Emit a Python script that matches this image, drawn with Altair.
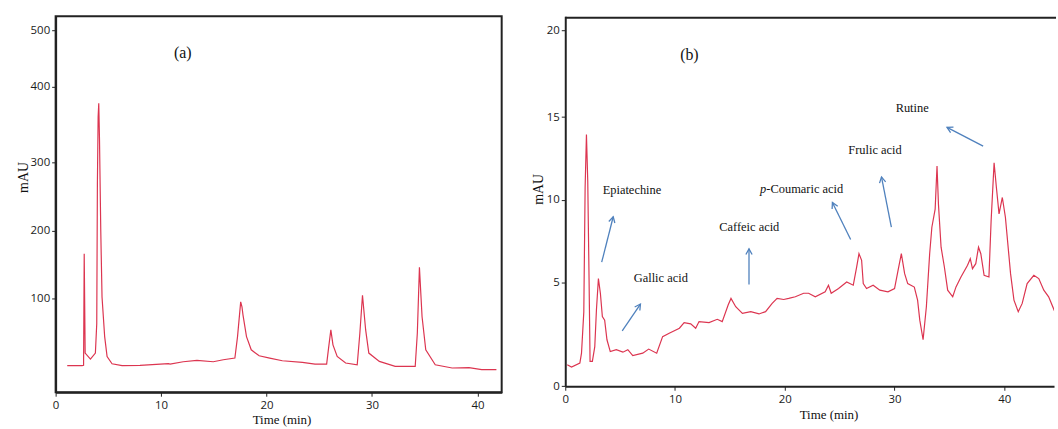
import math
import altair as alt
import numpy as np
import pandas as pd

# ---------------- data ----------------
# panel (a): standard mixture chromatogram
A_TIME = [1.1, 2.5, 2.65, 2.71, 2.8, 3.3, 3.77, 3.9, 3.96, 4.03,
          4.09, 4.16, 4.28, 4.4, 4.65, 4.88, 5.35, 6.3, 8.0, 10.7,
          10.85, 12.1, 13.4, 14.95, 15.9, 17.0, 17.25, 17.55, 17.67, 17.77,
          18.1, 18.55, 19.3, 20.3, 21.5, 23.4, 24.6, 25.7, 25.9, 26.1,
          26.3, 26.7, 27.5, 28.6, 28.85, 29.1, 29.4, 29.7, 30.7, 32.2,
          34.1, 34.3, 34.5, 34.75, 35.1, 36.0, 37.6, 39.2, 40.4, 41.8]
A_MAU = [1, 1, 1.5, 166, 19.5, 10.7, 19.5, 63, 268, 360,
         378, 330, 200, 102, 43.8, 14.5, 3.8, 1, 1.5, 3.8,
         3.3, 6.7, 8.7, 6.7, 9.7, 12.1, 43.8, 95, 87.7, 75.5,
         43.8, 24.3, 15.5, 12.1, 8.2, 5.7, 3.3, 3.3, 29, 53.6,
         31.6, 14.5, 4.8, 2.3, 48.8, 104.8, 53.6, 19.5, 7.2, 0,
         0, 48.8, 146, 73, 24.3, 2.3, -2.5, -2, -5, -5]

# panel (b): sample chromatogram
B_TIME = [0.18, 0.57, 1.33, 1.48, 1.69, 1.81, 1.93, 2.05, 2.17, 2.26,
          2.47, 2.69, 2.84, 3.02, 3.2, 3.38, 3.59, 3.8, 4.1, 4.65,
          5.25, 5.7, 6.15, 7.06, 7.6, 8.33, 8.87, 9.47, 10.4, 10.83,
          11.43, 11.88, 12.19, 13.1, 13.85, 14.3, 14.84, 15.1, 15.53, 16.14,
          16.9, 17.65, 18.25, 18.85, 19.3, 19.9, 20.36, 20.96, 21.72, 22.17,
          22.78, 23.68, 23.98, 24.23, 24.9, 25.64, 26.24, 26.55, 26.76, 27.0,
          27.15, 27.45, 28.05, 28.66, 29.4, 30.0, 30.32, 30.62, 30.92, 31.2,
          31.8, 32.1, 32.3, 32.6, 32.9, 33.2, 33.4, 33.7, 33.87, 34.0,
          34.24, 34.54, 34.84, 35.3, 35.6, 36.05, 36.65, 36.9, 37.1, 37.4,
          37.65, 37.86, 38.16, 38.6, 38.8, 39.07, 39.28, 39.52, 39.82, 40.1,
          40.57, 40.88, 41.27, 41.63, 42.08, 42.69, 43.14, 43.6, 44.04, 44.6]
B_MAU = [1.04, 0.93, 1.12, 1.6, 3.6, 10.74, 13.94, 11.1, 5.16, 1.2,
         1.2, 1.92, 3.69, 5.26, 4.5, 3.37, 3.2, 2.25, 1.68, 1.77,
         1.65, 1.77, 1.48, 1.6, 1.8, 1.6, 2.4, 2.57, 2.81, 3.08,
         3.02, 2.81, 3.13, 3.08, 3.24, 3.13, 3.93, 4.25, 3.85, 3.53,
         3.61, 3.5, 3.61, 4.01, 4.25, 4.2, 4.25, 4.33, 4.5, 4.5,
         4.33, 4.57, 4.89, 4.5, 4.73, 5.06, 4.89, 5.96, 6.76, 6.36,
         4.97, 4.73, 4.89, 4.65, 4.57, 4.73, 5.76, 6.76, 5.56, 4.97,
         4.8, 4.17, 3.2, 2.25, 3.85, 6.76, 8.35, 9.44, 12.04, 9.74,
         7.15, 5.96, 4.65, 4.33, 4.81, 5.36, 6.06, 6.46, 5.86, 6.16,
         7.15, 6.76, 5.46, 5.36, 8.75, 12.24, 10.74, 9.15, 10.14, 8.95,
         5.56, 4.17, 3.61, 4.01, 4.97, 5.46, 5.26, 4.65, 4.33, 3.61]

# compound labels in panel (b) (left edge, vertical centre)
LABEL_TEXT = ["Epiatechine", "Gallic acid", "Caffeic acid", "-Coumaric acid", "Frulic acid", "Rutine"]
LABEL_T = [3.41, 6.24, 14.03, 18.32, 25.79, 30.10]
LABEL_V = [10.6, 5.3, 8.35, 10.64, 13.0, 15.51]
ITALIC_TEXT = ["p"]
ITALIC_T = [17.74]
ITALIC_V = [10.64]

# arrows in panel (b): tail -> head
ARROW_T0 = [3.32, 5.19, 16.74, 26.00, 29.71, 38.07]
ARROW_V0 = [6.25, 2.68, 4.92, 7.61, 8.35, 13.24]
ARROW_T1 = [4.37, 6.85, 16.74, 24.34, 28.81, 34.78]
ARROW_V1 = [8.98, 3.98, 7.05, 9.84, 11.38, 14.38]

PANEL_A_TAG = {"t": [12.05], "v": [458.7], "txt": ["(a)"]}
PANEL_B_TAG = {"t": [11.31], "v": [18.59], "txt": ["(b)"]}

# ---------------- scales (the original axes are unevenly spaced) ----------------
A_W, A_H = 449, 378.4
B_W, B_H = 492, 372.4
A_X_DOMAIN = [0, 42.3]
B_X_DOMAIN = [0, 44.53]
A_Y_DOMAIN = [-38.2, 100, 200, 300, 400, 500, 524.7]
A_Y_RANGE = [378.4, 284.0, 215.7, 147.4, 70.7, 14.0, 0]
B_Y_DOMAIN = [0, 5, 10, 15, 20, 20.8]
B_Y_RANGE = [372.4, 268.4, 184.7, 101.4, 14.0, 0]

RED = "#dc3550"
BLUE = "#4f81bd"
INK = "#222222"
SERIF = "Liberation Serif"
SANS = "Open Sans"

df_a = pd.DataFrame({"t": A_TIME, "v": A_MAU})
df_b = pd.DataFrame({"t": B_TIME, "v": B_MAU})


def b_px(t, v):
    x = (t - B_X_DOMAIN[0]) / (B_X_DOMAIN[1] - B_X_DOMAIN[0]) * B_W
    y = float(np.interp(v, B_Y_DOMAIN, B_Y_RANGE))
    return x, y


angles = []
for t0, v0, t1, v1 in zip(ARROW_T0, ARROW_V0, ARROW_T1, ARROW_V1):
    x0, y0 = b_px(t0, v0)
    x1, y1 = b_px(t1, v1)
    angles.append(math.degrees(math.atan2(x1 - x0, -(y1 - y0))) % 360)

df_arrows = pd.DataFrame({"t0": ARROW_T0, "v0": ARROW_V0, "t1": ARROW_T1,
                          "v1": ARROW_V1, "ang": angles})
df_labels = pd.DataFrame({"t": LABEL_T, "v": LABEL_V, "txt": LABEL_TEXT})
df_italic = pd.DataFrame({"t": ITALIC_T, "v": ITALIC_V, "txt": ITALIC_TEXT})

# ---------------- panel (a) ----------------
xa_scale = alt.Scale(domain=A_X_DOMAIN, nice=False, zero=False)
ya_scale = alt.Scale(domain=A_Y_DOMAIN, range=A_Y_RANGE, nice=False, zero=False)

xa = alt.X("t:Q", scale=xa_scale,
           axis=alt.Axis(values=[0, 10, 20, 30, 40], title="Time (min)",
                         titleX=227.4, titleY=27, titleBaseline="middle",
                         titleFontSize=13))
ya = alt.Y("v:Q", scale=ya_scale,
           axis=alt.Axis(values=[100, 200, 300, 400, 500], title="mAU",
                         titleX=-32.3, titleY=161.7, titleAngle=270,
                         titleBaseline="middle", titleAlign="center",
                         titleFontSize=14))

line_a = alt.Chart(df_a).mark_line(color=RED, strokeWidth=1.2, clip=True).encode(x=xa, y=ya)
tag_a = alt.Chart(pd.DataFrame(PANEL_A_TAG)).mark_text(
    font=SERIF, fontSize=16, color="#111", align="center", baseline="middle"
).encode(x=alt.X("t:Q", scale=xa_scale), y=alt.Y("v:Q", scale=ya_scale), text="txt:N")

panel_a = alt.layer(line_a, tag_a).properties(width=A_W, height=A_H)

# ---------------- panel (b) ----------------
xb_scale = alt.Scale(domain=B_X_DOMAIN, nice=False, zero=False)
yb_scale = alt.Scale(domain=B_Y_DOMAIN, range=B_Y_RANGE, nice=False, zero=False)

xb = alt.X("t:Q", scale=xb_scale,
           axis=alt.Axis(values=[0, 10, 20, 30, 40], title="Time (min)",
                         titleX=265, titleY=28.3, titleBaseline="middle",
                         titleFontSize=13))
yb = alt.Y("v:Q", scale=yb_scale,
           axis=alt.Axis(values=[0, 5, 10, 15, 20], title="mAU",
                         titleX=-27, titleY=173.7, titleAngle=270,
                         titleBaseline="middle", titleAlign="center",
                         titleFontSize=14))

line_b = alt.Chart(df_b).mark_line(color=RED, strokeWidth=1.2, clip=True).encode(x=xb, y=yb)

labels_b = alt.Chart(df_labels).mark_text(
    font=SERIF, fontSize=12.5, color="#111", align="left", baseline="middle"
).encode(x=alt.X("t:Q", scale=xb_scale), y=alt.Y("v:Q", scale=yb_scale), text="txt:N")

italic_b = alt.Chart(df_italic).mark_text(
    font=SERIF, fontSize=12.5, fontStyle="italic", color="#111", align="left", baseline="middle"
).encode(x=alt.X("t:Q", scale=xb_scale), y=alt.Y("v:Q", scale=yb_scale), text="txt:N")

tag_b = alt.Chart(pd.DataFrame(PANEL_B_TAG)).mark_text(
    font=SERIF, fontSize=16, color="#111", align="center", baseline="middle"
).encode(x=alt.X("t:Q", scale=xb_scale), y=alt.Y("v:Q", scale=yb_scale), text="txt:N")

shafts = alt.Chart(df_arrows).mark_rule(color=BLUE, strokeWidth=1.3).encode(
    x=alt.X("t0:Q", scale=xb_scale), y=alt.Y("v0:Q", scale=yb_scale),
    x2="t1:Q", y2="v1:Q")

heads = alt.Chart(df_arrows).mark_point(
    shape="M -0.55 1 L 0 0 L 0.55 1", filled=False, color=BLUE,
    strokeWidth=1.3, size=130, opacity=1
).encode(x=alt.X("t1:Q", scale=xb_scale), y=alt.Y("v1:Q", scale=yb_scale),
         angle=alt.Angle("ang:Q", scale=None))

top_frame = alt.Chart(pd.DataFrame({"k": [0]})).mark_rule(color=INK, strokeWidth=2).encode(
    x=alt.value(0), x2=alt.value(B_W + 2), y=alt.value(1.4))

panel_b = alt.layer(line_b, shafts, heads, labels_b, italic_b, tag_b, top_frame).properties(
    width=B_W, height=B_H, view=alt.ViewBackground(stroke="transparent"))

chart = alt.hconcat(panel_a, panel_b, spacing=28).properties(
    padding={"left": 15, "top": 14, "right": 0, "bottom": 0},
    background="white",
).configure_view(
    stroke=INK, strokeWidth=2
).configure_axis(
    grid=False,
    domainColor=INK, domainWidth=2,
    tickColor=INK, tickSize=4, tickWidth=1,
    labelFont=SANS, labelFontSize=11.5, labelColor="#1a1a1a",
    labelFlush=False,
    titleFont=SERIF, titleFontWeight="normal", titleColor="#111",
).configure_axisX(labelPadding=3).configure_axisY(labelPadding=2)

chart.save("out.html", embed_options={"renderer": "svg", "actions": False})
